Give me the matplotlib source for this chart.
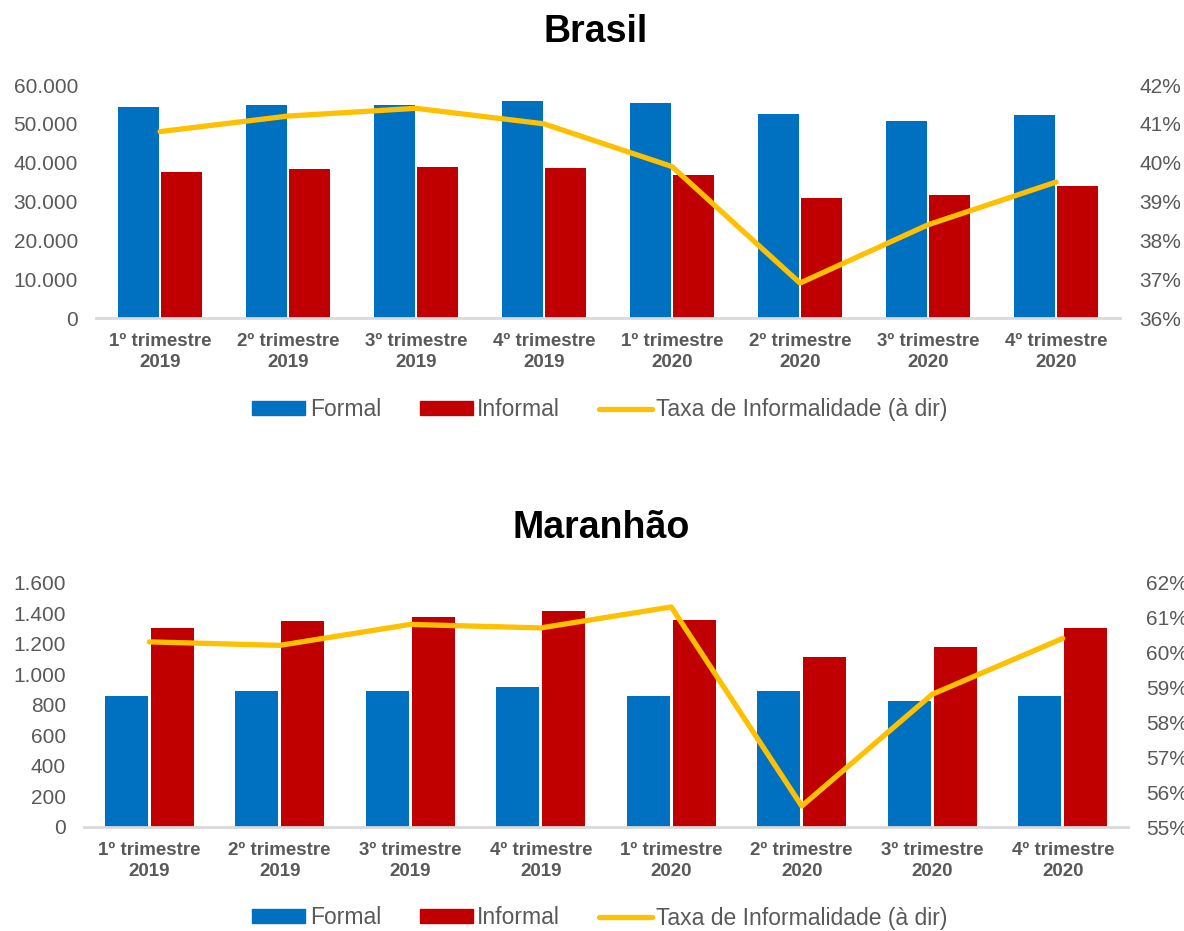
import matplotlib
matplotlib.use("Agg")
import matplotlib.pyplot as plt
from matplotlib.ticker import FuncFormatter, MultipleLocator
from matplotlib.patches import Patch
from matplotlib.lines import Line2D
import numpy as np

plt.rcParams['font.family'] = ['Liberation Sans', 'DejaVu Sans']

quarters = ["1º trimestre\n2019", "2º trimestre\n2019", "3º trimestre\n2019", "4º trimestre\n2019",
            "1º trimestre\n2020", "2º trimestre\n2020", "3º trimestre\n2020", "4º trimestre\n2020"]

# Brasil (mil pessoas)
br_formal = [54300, 54900, 54900, 55800, 55400, 52600, 50800, 52200]
br_informal = [37500, 38400, 38900, 38700, 36800, 30900, 31700, 34000]
br_taxa = [40.8, 41.2, 41.4, 41.0, 39.9, 36.9, 38.4, 39.5]

# Maranhão (mil pessoas)
ma_formal = [859, 887, 889, 913, 859, 889, 826, 854]
ma_informal = [1301, 1345, 1377, 1413, 1356, 1112, 1179, 1301]
ma_taxa = [60.3, 60.2, 60.8, 60.7, 61.3, 55.6, 58.8, 60.4]

BLUE = "#0070C0"
RED = "#C00000"
GOLD = "#FFC000"
GRAY = "#595959"

fig = plt.figure(figsize=(11.84, 9.31), dpi=100)


def thousands(v, pos):
    return f"{int(round(v)):,}".replace(",", ".")


def panel(rect, formal, informal, taxa, ymax, ystep, rmin, rmax, bw, off, rpad):
    ax = fig.add_axes(rect)
    x = np.arange(len(quarters))
    ax.bar(x - off, formal, width=bw, color=BLUE, zorder=2)
    ax.bar(x + off, informal, width=bw, color=RED, zorder=2)
    ax.set_xlim(-0.5, len(quarters) - 0.5)
    ax.set_ylim(0, ymax)
    ax.yaxis.set_major_locator(MultipleLocator(ystep))
    ax.yaxis.set_major_formatter(FuncFormatter(thousands))
    ax.set_xticks(x)
    ax.set_xticklabels(quarters, fontsize=13.5, fontweight='bold', color=GRAY, linespacing=1.3)
    ax.tick_params(axis='x', length=0, pad=11)
    ax.tick_params(axis='y', length=0, labelsize=15, labelcolor=GRAY, pad=13)
    for s in ['top', 'right', 'left']:
        ax.spines[s].set_visible(False)
    ax.spines['bottom'].set_color("#D9D9D9")
    ax.spines['bottom'].set_linewidth(2)
    ax.spines['bottom'].set_zorder(3)

    ax2 = ax.twinx()
    ax2.plot(x, taxa, color=GOLD, lw=3.8, solid_joinstyle='round', solid_capstyle='round', zorder=4)
    ax2.set_ylim(rmin, rmax)
    ax2.yaxis.set_major_locator(MultipleLocator(1))
    ax2.yaxis.set_major_formatter(FuncFormatter(lambda v, p: f"{int(round(v))}%"))
    ax2.tick_params(axis='y', length=0, labelsize=15, labelcolor=GRAY, pad=rpad)
    for s in ['top', 'right', 'left', 'bottom']:
        ax2.spines[s].set_visible(False)
    return ax


panel([96 / 1184, 1 - 318 / 931, 1024 / 1184, 233 / 931],
      br_formal, br_informal, br_taxa, 60000, 10000, 36, 42, 0.32, 0.17, 14)
panel([84 / 1184, 1 - 827 / 931, 1044 / 1184, 244.5 / 931],
      ma_formal, ma_informal, ma_taxa, 1600, 200, 55, 62, 0.33, 0.175, 13)

fig.text(596 / 1184, 1 - 32 / 931, "Brasil", ha='center', va='center', fontsize=27, fontweight='bold', color='black')
fig.text(601 / 1184, 1 - 528 / 931, "Maranhão", ha='center', va='center', fontsize=27, fontweight='bold', color='black')

handles = [Patch(color=BLUE), Patch(color=RED), Line2D([0], [0], color=GOLD, lw=3.8, solid_capstyle='round')]
labels = ["Formal", "Informal", "Taxa de Informalidade (à dir)"]
for yc in (410, 918):
    fig.legend(handles, labels, loc='center', bbox_to_anchor=(600 / 1184, 1 - yc / 931),
               ncol=3, frameon=False, fontsize=16.5, labelcolor=GRAY,
               handlelength=2.3, handleheight=0.55, handletextpad=0.2, columnspacing=1.7)

fig.savefig("out.png", dpi=100)
